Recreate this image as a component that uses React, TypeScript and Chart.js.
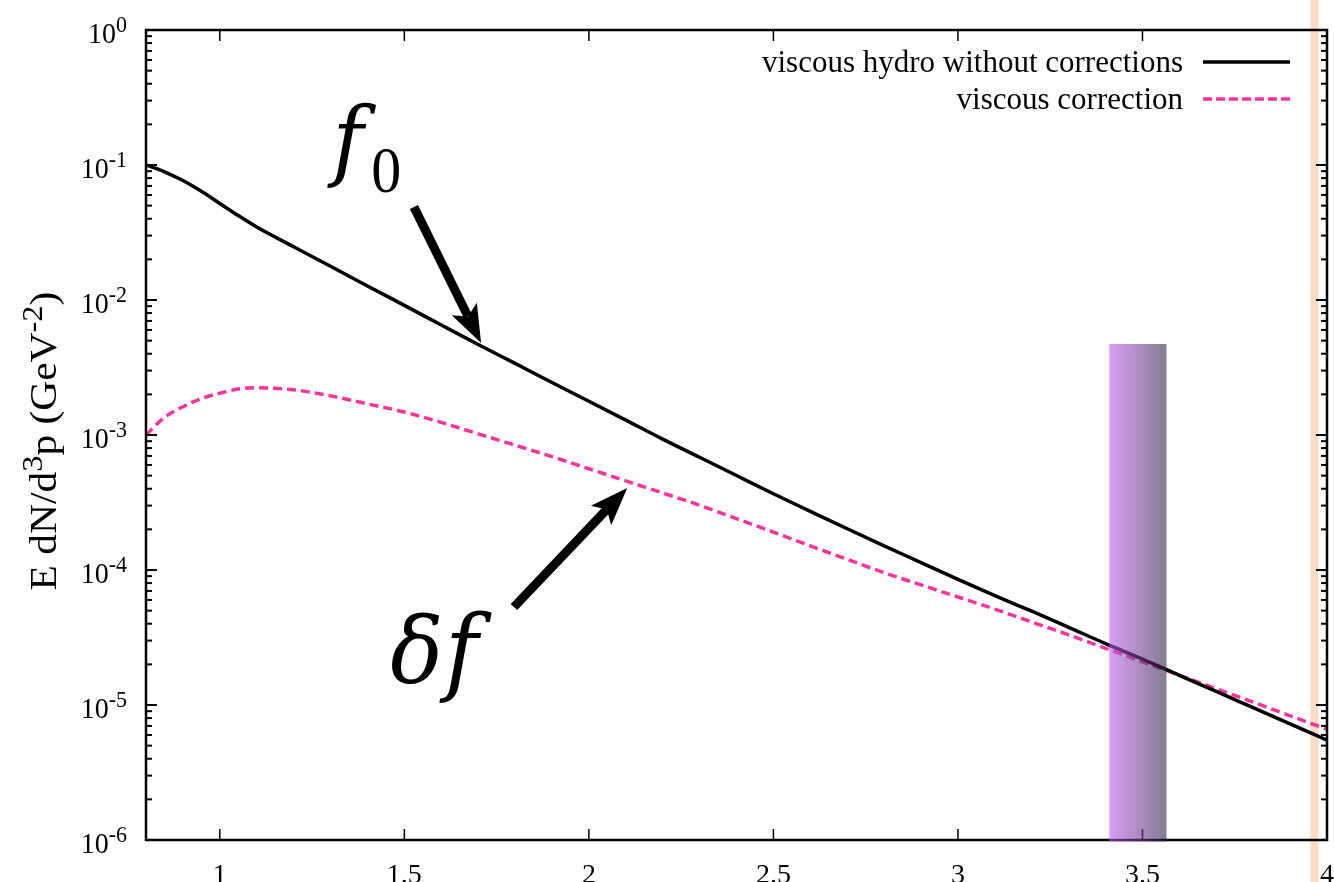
import React, { useEffect, useRef } from 'react';
import { Chart, registerables } from 'chart.js';

Chart.register(...registerables);

// ---------- data ----------
const xValues = [
  0.8, 0.85, 0.9, 0.95, 1.0, 1.05, 1.1, 1.2, 1.3, 1.4, 1.5, 1.6, 1.7, 1.8, 1.9, 2.0, 2.1, 2.2,
  2.3, 2.4, 2.5, 2.6, 2.7, 2.8, 2.9, 3.0, 3.1, 3.2, 3.3, 3.4, 3.5, 3.6, 3.7, 3.8, 3.9, 4.0,
];
const hydroValues = [
  1.0e-1, 8.91e-2, 7.67e-2, 6.38e-2, 5.19e-2, 4.22e-2, 3.47e-2, 2.48e-2, 1.78e-2, 1.27e-2,
  9.12e-3, 6.53e-3, 4.68e-3, 3.39e-3, 2.45e-3, 1.78e-3, 1.29e-3, 9.33e-4, 6.84e-4, 5.01e-4,
  3.67e-4, 2.72e-4, 2.02e-4, 1.51e-4, 1.135e-4, 8.51e-5, 6.46e-5, 4.95e-5, 3.76e-5, 2.85e-5,
  2.19e-5, 1.66e-5, 1.26e-5, 9.55e-6, 7.24e-6, 5.5e-6,
];
const correctionValues = [
  1.0e-3, 1.35e-3, 1.62e-3, 1.86e-3, 2.04e-3, 2.19e-3, 2.24e-3, 2.16e-3, 1.95e-3, 1.7e-3,
  1.48e-3, 1.24e-3, 1.02e-3, 8.41e-4, 6.92e-4, 5.62e-4, 4.57e-4, 3.72e-4, 3.02e-4, 2.4e-4,
  1.91e-4, 1.51e-4, 1.2e-4, 9.55e-5, 7.76e-5, 6.31e-5, 5.13e-5, 4.12e-5, 3.31e-5, 2.63e-5,
  2.09e-5, 1.66e-5, 1.32e-5, 1.05e-5, 8.32e-6, 6.61e-6,
];
const seriesLabels = ['viscous hydro without corrections', 'viscous correction'];

const xTickValues = [1, 1.5, 2, 2.5, 3, 3.5, 4];
const xTickLabels = ['1', '1.5', '2', '2.5', '3', '3.5', '4'];
const yTickValues = [1, 1e-1, 1e-2, 1e-3, 1e-4, 1e-5, 1e-6];
const yTickExponents = ['0', '-1', '-2', '-3', '-4', '-5', '-6'];
const yMinorMultipliers = [2, 3, 4, 5, 6, 7, 8, 9];
const yAxisTitleParts = [
  { t: 'E dN/d', sup: false },
  { t: '3', sup: true },
  { t: 'p (GeV', sup: false },
  { t: '-2', sup: true },
  { t: ')', sup: false },
];

// shaded bands (data coordinates)
const purpleBand = { xMin: 3.41, xMax: 3.565, yMax: 4.72e-3 };
const orangeBand = { xMin: 3.955, xMax: 3.977 };

// annotation arrows (data coordinates: from -> to)
const arrowFrom = [
  [1.526, 4.89e-2],
  [1.797, 5.32e-5],
];
const arrowTo = [
  [1.708, 4.8e-3],
  [2.104, 4.05e-4],
];
// annotation texts
const noteTexts = ['f', '0', 'δ', 'f'];
const noteX = [1.305, 1.41, 1.462, 1.61];
const noteY = [9.18e-2, 6.31e-2, 1.46e-5, 1.46e-5];

// ---------- styling ----------
const SERIF = "'Liberation Serif', 'Times New Roman', serif";
const MATH = "'DejaVu Serif', 'Liberation Serif', serif";
const noteStyle = [
  { size: 84, italic: true, k: 1.05, fam: MATH },
  { size: 60, italic: false, k: 1.1, fam: SERIF },
  { size: 88, italic: true, k: 1.05, fam: MATH },
  { size: 90, italic: true, k: 1.05, fam: MATH },
];
const BLACK_LINE = '#000000';
const PINK_LINE = '#ff3399';

function stretchedText(
  ctx: CanvasRenderingContext2D,
  text: string,
  x: number,
  y: number,
  font: string,
  k: number,
  align: CanvasTextAlign = 'left'
) {
  ctx.save();
  ctx.font = font;
  ctx.textAlign = align;
  ctx.textBaseline = 'alphabetic';
  ctx.translate(x, y);
  ctx.scale(1, k);
  ctx.fillText(text, 0, 0);
  ctx.restore();
}

function seg(ctx: CanvasRenderingContext2D, x0: number, y0: number, x1: number, y1: number) {
  ctx.beginPath();
  ctx.moveTo(x0, y0);
  ctx.lineTo(x1, y1);
  ctx.stroke();
}

function drawArrow(ctx: CanvasRenderingContext2D, x0: number, y0: number, x1: number, y1: number) {
  const dx = x1 - x0;
  const dy = y1 - y0;
  const L = Math.hypot(dx, dy);
  const ux = dx / L;
  const uy = dy / L;
  const px = -uy;
  const py = ux;
  const hl = 38;
  const hw = 14;
  ctx.save();
  ctx.fillStyle = '#000';
  ctx.strokeStyle = '#000';
  ctx.lineWidth = 9;
  ctx.lineCap = 'butt';
  seg(ctx, x0, y0, x1 - ux * (hl - 8), y1 - uy * (hl - 8));
  ctx.beginPath();
  ctx.moveTo(x1, y1);
  ctx.lineTo(x1 - ux * hl + px * hw, y1 - uy * hl + py * hw);
  ctx.lineTo(x1 - ux * hl * 0.78, y1 - uy * hl * 0.78);
  ctx.lineTo(x1 - ux * hl - px * hw, y1 - uy * hl - py * hw);
  ctx.closePath();
  ctx.fill();
  ctx.restore();
}

const decorPlugin = {
  id: 'decor',
  beforeDatasetsDraw(chart: any) {
    const { ctx, scales } = chart;
    const x = scales.x;
    const x0 = x.getPixelForValue(orangeBand.xMin);
    const x1 = x.getPixelForValue(orangeBand.xMax);
    ctx.save();
    ctx.fillStyle = '#fddcc6';
    ctx.fillRect(x0, 0, x1 - x0, chart.height);
    ctx.restore();
  },
  afterDatasetsDraw(chart: any) {
    const { ctx, chartArea: a, scales } = chart;
    const x = scales.x;
    const y = scales.y;
    ctx.save();
    ctx.strokeStyle = '#000';
    ctx.fillStyle = '#000';

    // x ticks (inward, bottom and top)
    ctx.lineWidth = 1.5;
    xTickValues.forEach((v) => {
      const px = x.getPixelForValue(v);
      seg(ctx, px, a.bottom, px, a.bottom - 11);
      seg(ctx, px, a.top, px, a.top + 11);
    });

    // y ticks (inward, left and right)
    ctx.lineWidth = 2;
    yTickValues.forEach((v, i) => {
      const py = y.getPixelForValue(v);
      seg(ctx, a.left, py, a.left + 11, py);
      seg(ctx, a.right, py, a.right - 11, py);
      if (i < yTickValues.length - 1) {
        yMinorMultipliers.forEach((m) => {
          const pm = y.getPixelForValue(m * yTickValues[i + 1]);
          seg(ctx, a.left, pm, a.left + 6, pm);
          seg(ctx, a.right, pm, a.right - 6, pm);
        });
      }
    });

    // frame
    ctx.lineWidth = 2.5;
    ctx.strokeRect(a.left, a.top, a.right - a.left, a.bottom - a.top);

    // purple gradient band (semi-transparent)
    const bx0 = x.getPixelForValue(purpleBand.xMin);
    const bx1 = x.getPixelForValue(purpleBand.xMax);
    const by0 = y.getPixelForValue(purpleBand.yMax);
    const grad = ctx.createLinearGradient(bx0, 0, bx1, 0);
    grad.addColorStop(0, 'rgba(190, 92, 236, 0.6)');
    grad.addColorStop(1, 'rgba(52, 36, 74, 0.6)');
    ctx.fillStyle = grad;
    ctx.fillRect(bx0, by0, bx1 - bx0, a.bottom + 1.5 - by0);
    ctx.fillStyle = '#000';

    // x tick labels
    xTickValues.forEach((v, i) => {
      const px = x.getPixelForValue(v);
      stretchedText(ctx, xTickLabels[i], px, a.bottom + 43, `28px ${SERIF}`, 1.0, 'center');
    });

    // y tick labels 10^n
    yTickValues.forEach((v, i) => {
      const py = y.getPixelForValue(v);
      const sup = yTickExponents[i];
      ctx.font = `28px ${SERIF}`;
      const wb = ctx.measureText('10').width;
      ctx.font = `22px ${SERIF}`;
      const ws = ctx.measureText(sup).width;
      const xs = a.left - 19 - ws - wb;
      stretchedText(ctx, '10', xs, py + 13, `28px ${SERIF}`, 1.05);
      stretchedText(ctx, sup, xs + wb, py + 2, `22px ${SERIF}`, 1.05);
    });

    // y axis title (rotated)
    ctx.save();
    ctx.translate(56, (a.top + a.bottom) / 2 + 6);
    ctx.rotate(-Math.PI / 2);
    ctx.scale(1.12, 1);
    ctx.textBaseline = 'alphabetic';
    ctx.textAlign = 'left';
    let total = 0;
    yAxisTitleParts.forEach((p) => {
      ctx.font = `${p.sup ? 29 : 37}px ${SERIF}`;
      total += ctx.measureText(p.t).width;
    });
    let cx = -total / 2;
    yAxisTitleParts.forEach((p) => {
      ctx.font = `${p.sup ? 29 : 37}px ${SERIF}`;
      ctx.fillText(p.t, cx, p.sup ? -14 : 0);
      cx += ctx.measureText(p.t).width;
    });
    ctx.restore();

    // arrows
    arrowFrom.forEach((f, i) => {
      const t = arrowTo[i];
      drawArrow(
        ctx,
        x.getPixelForValue(f[0]),
        y.getPixelForValue(f[1]),
        x.getPixelForValue(t[0]),
        y.getPixelForValue(t[1])
      );
    });

    // annotation texts
    noteTexts.forEach((t, i) => {
      const s = noteStyle[i];
      stretchedText(
        ctx,
        t,
        x.getPixelForValue(noteX[i]),
        y.getPixelForValue(noteY[i]),
        `${s.italic ? 'italic ' : ''}${s.size}px ${s.fam}`,
        s.k
      );
    });

    // legend
    const legendColors = [BLACK_LINE, PINK_LINE];
    const legendDash = [[], [9, 4]];
    seriesLabels.forEach((lab, i) => {
      const ly = a.top + 32 + i * 37;
      stretchedText(ctx, lab, a.right - 144, ly + 10, `31px ${SERIF}`, 1.0, 'right');
      ctx.save();
      ctx.strokeStyle = legendColors[i];
      ctx.lineWidth = 3.5;
      ctx.setLineDash(legendDash[i]);
      seg(ctx, a.right - 124, ly, a.right - 37, ly);
      ctx.restore();
    });

    ctx.restore();
  },
};

export default function App() {
  const ref = useRef<HTMLCanvasElement>(null);
  useEffect(() => {
    document.body.style.margin = '0';
    const canvas = ref.current;
    if (!canvas) return;
    const chart = new Chart(canvas, {
      type: 'line',
      data: {
        datasets: [
          {
            label: seriesLabels[0],
            data: xValues.map((xv, i) => ({ x: xv, y: hydroValues[i] })),
            borderColor: BLACK_LINE,
            borderWidth: 3.5,
            pointRadius: 0,
            cubicInterpolationMode: 'monotone',
            fill: false,
          },
          {
            label: seriesLabels[1],
            data: xValues.map((xv, i) => ({ x: xv, y: correctionValues[i] })),
            borderColor: PINK_LINE,
            borderWidth: 3.5,
            borderDash: [9, 5],
            pointRadius: 0,
            cubicInterpolationMode: 'monotone',
            fill: false,
          },
        ],
      },
      options: {
        responsive: false,
        animation: false,
        layout: { padding: { left: 146, top: 30, right: 7, bottom: 42 } },
        plugins: { legend: { display: false }, tooltip: { enabled: false } },
        scales: {
          x: { type: 'linear', min: 0.8, max: 4, display: false },
          y: { type: 'logarithmic', min: 1e-6, max: 1, display: false },
        },
      },
      plugins: [decorPlugin],
    } as any);
    return () => chart.destroy();
  }, []);
  return (
    <div style={{ position: 'fixed', left: 0, top: 0, width: 1334, height: 882, background: '#fff' }}>
      <canvas ref={ref} width={1334} height={882} style={{ display: 'block', width: 1334, height: 882 }} />
    </div>
  );
}
